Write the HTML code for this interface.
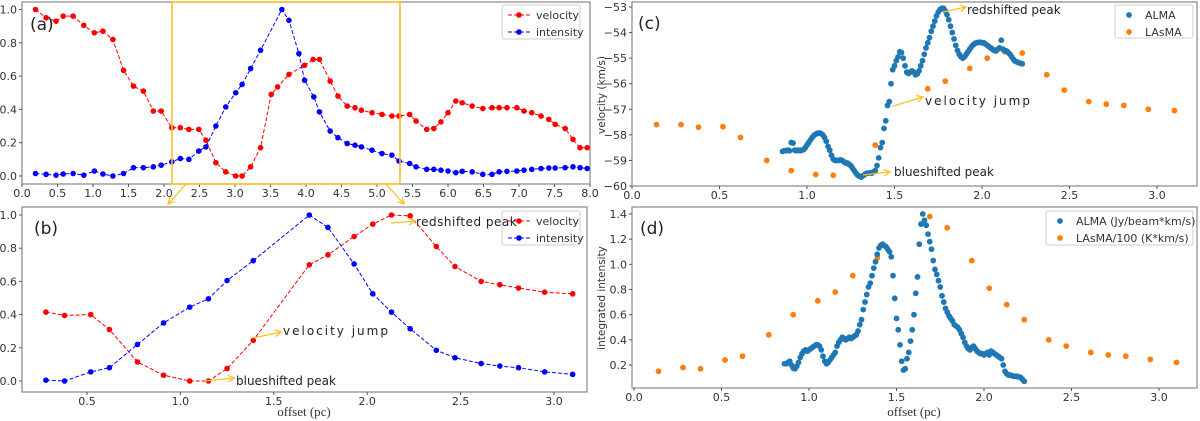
<!DOCTYPE html>
<html><head><meta charset="utf-8"><style>
html,body{margin:0;padding:0;background:#fff;}
svg{display:block;font-family:"DejaVu Sans","Liberation Sans",sans-serif;}
.tick{font-size:11px;fill:#333;}
</style></head><body>
<svg id="fig" width="1200" height="421" viewBox="0 0 1200 421" xmlns="http://www.w3.org/2000/svg"></svg>
<script>
// ---- panel (a) data ----
const aVelX=[0.19,0.34,0.48,0.58,0.72,0.87,1.02,1.14,1.28,1.43,1.57,1.71,1.85,1.96,2.11,2.23,2.35,2.49,2.59,2.73,2.87,3.01,3.10,3.22,3.36,3.51,3.60,3.76,3.98,4.10,4.19,4.34,4.45,4.58,4.69,4.78,4.93,5.07,5.21,5.31,5.46,5.55,5.70,5.80,5.90,6.00,6.11,6.20,6.34,6.49,6.62,6.72,6.83,6.97,7.07,7.18,7.31,7.42,7.51,7.65,7.76,7.86,7.96];
const aVelY=[1.0,0.95,0.93,0.96,0.96,0.905,0.86,0.87,0.82,0.635,0.54,0.51,0.39,0.39,0.29,0.29,0.28,0.28,0.215,0.08,0.025,0,0,0.055,0.17,0.49,0.535,0.61,0.665,0.70,0.70,0.57,0.48,0.42,0.41,0.395,0.38,0.37,0.36,0.36,0.37,0.33,0.28,0.285,0.325,0.38,0.45,0.44,0.42,0.405,0.41,0.41,0.41,0.41,0.39,0.38,0.36,0.34,0.31,0.285,0.22,0.17,0.17];
const aIntX=[0.19,0.34,0.48,0.58,0.72,0.87,1.02,1.14,1.28,1.43,1.57,1.71,1.85,1.96,2.11,2.23,2.35,2.49,2.59,2.73,2.87,3.01,3.10,3.22,3.36,3.66,3.76,3.90,3.98,4.11,4.19,4.34,4.45,4.58,4.69,4.78,4.93,5.07,5.21,5.31,5.46,5.55,5.70,5.80,5.90,6.00,6.11,6.20,6.34,6.49,6.62,6.72,6.83,6.97,7.07,7.18,7.31,7.42,7.51,7.65,7.76,7.86,7.96];
const aIntY=[0.015,0.01,0.005,0.012,0.015,0.005,0.03,0.012,0,0.015,0.05,0.05,0.055,0.065,0.085,0.105,0.1,0.15,0.175,0.3,0.415,0.5,0.55,0.645,0.755,1.0,0.935,0.735,0.575,0.475,0.385,0.27,0.23,0.195,0.185,0.175,0.155,0.135,0.125,0.09,0.075,0.055,0.04,0.04,0.035,0.03,0.02,0.028,0.025,0.01,0.01,0.025,0.028,0.03,0.035,0.04,0.045,0.048,0.048,0.05,0.055,0.05,0.045];
const aXTicks=[0,0.5,1,1.5,2,2.5,3,3.5,4,4.5,5,5.5,6,6.5,7,7.5,8];
const abYTicks=[0,0.2,0.4,0.6,0.8,1.0];
// ---- panel (b) data ----
const bX=[0.28,0.38,0.52,0.62,0.77,0.91,1.05,1.15,1.25,1.39,1.69,1.79,1.93,2.03,2.13,2.23,2.37,2.47,2.61,2.71,2.81,2.95,3.10];
const bVel=[0.415,0.395,0.4,0.31,0.115,0.035,0.0,0.0,0.075,0.245,0.7,0.76,0.87,0.945,1.0,0.995,0.81,0.69,0.6,0.58,0.56,0.535,0.525];
const bInt=[0.005,0.0,0.055,0.08,0.22,0.35,0.445,0.495,0.605,0.725,1.0,0.925,0.705,0.525,0.415,0.315,0.185,0.14,0.105,0.09,0.08,0.055,0.04];
const bXTicks=[0.5,1.0,1.5,2.0,2.5,3.0];
// ---- panels (c),(d) data ----
const lasmaX=[0.14,0.28,0.38,0.52,0.62,0.77,0.91,1.05,1.15,1.25,1.39,1.69,1.79,1.93,2.03,2.13,2.23,2.37,2.47,2.61,2.71,2.81,2.95,3.10];
const cLasma=[-57.6,-57.6,-57.7,-57.68,-58.1,-59.0,-59.4,-59.55,-59.58,-59.2,-58.4,-56.2,-55.9,-55.4,-55.0,-54.75,-54.8,-55.65,-56.25,-56.7,-56.8,-56.85,-57.0,-57.05];
const dLasma=[0.15,0.18,0.17,0.24,0.27,0.44,0.6,0.71,0.78,0.91,1.05,1.38,1.29,1.03,0.81,0.68,0.56,0.40,0.35,0.30,0.28,0.27,0.245,0.22];
const almaX=[0.86,0.87,0.88,0.89,0.90,0.91,0.92,0.93,0.94,0.95,0.96,0.97,0.98,0.99,1.00,1.01,1.02,1.03,1.04,1.05,1.06,1.07,1.08,1.09,1.10,1.11,1.12,1.13,1.14,1.15,1.16,1.17,1.18,1.19,1.20,1.21,1.22,1.23,1.24,1.25,1.26,1.27,1.28,1.29,1.30,1.31,1.32,1.33,1.34,1.35,1.36,1.37,1.38,1.39,1.40,1.41,1.42,1.43,1.44,1.45,1.46,1.47,1.48,1.49,1.50,1.51,1.52,1.53,1.54,1.55,1.56,1.57,1.58,1.59,1.60,1.61,1.62,1.63,1.64,1.65,1.66,1.67,1.68,1.69,1.70,1.71,1.72,1.73,1.74,1.75,1.76,1.77,1.78,1.79,1.80,1.81,1.82,1.83,1.84,1.85,1.86,1.87,1.88,1.89,1.90,1.91,1.92,1.93,1.94,1.95,1.96,1.97,1.98,1.99,2.00,2.01,2.02,2.03,2.04,2.05,2.06,2.07,2.08,2.09,2.10,2.11,2.12,2.13,2.14,2.15,2.16,2.17,2.18,2.19,2.20,2.21,2.22,2.23];
const cAlma=[-58.65,-58.62,-58.62,-58.6,-58.62,-58.3,-58.32,-58.6,-58.62,-58.6,-58.62,-58.6,-58.58,-58.5,-58.4,-58.3,-58.2,-58.1,-58.02,-57.97,-57.94,-57.93,-57.95,-58.0,-58.1,-58.25,-58.45,-58.6,-58.8,-58.95,-59.0,-59.0,-59.0,-58.98,-59.0,-59.05,-59.1,-59.1,-59.15,-59.2,-59.3,-59.4,-59.5,-59.58,-59.62,-59.65,-59.6,-59.55,-59.5,-59.5,-59.48,-59.5,-59.45,-59.4,-59.2,-58.9,-58.5,-58.3,-57.75,-57.45,-56.85,-56.7,-56.0,-55.45,-55.3,-55.1,-54.95,-54.75,-54.78,-55.0,-55.3,-55.55,-55.6,-55.55,-55.5,-55.55,-55.65,-55.62,-55.5,-55.3,-55.1,-54.85,-54.6,-54.4,-54.2,-53.95,-53.75,-53.55,-53.35,-53.2,-53.1,-53.05,-53.05,-53.15,-53.3,-53.5,-53.75,-54.0,-54.25,-54.5,-54.7,-54.85,-54.95,-55.0,-54.95,-54.85,-54.75,-54.65,-54.55,-54.48,-54.42,-54.4,-54.38,-54.38,-54.4,-54.4,-54.45,-54.5,-54.55,-54.6,-54.65,-54.7,-54.72,-54.65,-54.6,-54.3,-54.65,-54.7,-54.72,-54.78,-54.85,-54.95,-55.05,-55.12,-55.15,-55.18,-55.2,-55.22];
const dAlma=[0.21,0.21,0.22,0.23,0.20,0.175,0.17,0.19,0.22,0.26,0.29,0.31,0.32,0.31,0.32,0.33,0.34,0.35,0.36,0.36,0.35,0.32,0.27,0.23,0.21,0.22,0.24,0.26,0.28,0.30,0.35,0.38,0.40,0.42,0.41,0.40,0.41,0.42,0.41,0.42,0.43,0.44,0.47,0.52,0.56,0.64,0.70,0.76,0.82,0.85,0.91,0.97,1.02,1.08,1.13,1.15,1.16,1.15,1.14,1.12,1.10,1.06,0.91,0.73,0.57,0.48,0.36,0.23,0.16,0.17,0.25,0.30,0.39,0.48,0.60,0.77,0.90,1.16,1.32,1.40,1.35,1.31,1.24,1.18,1.12,1.03,0.96,0.92,0.87,0.82,0.75,0.70,0.65,0.62,0.59,0.57,0.55,0.52,0.51,0.50,0.48,0.45,0.42,0.38,0.35,0.33,0.32,0.34,0.35,0.33,0.31,0.30,0.29,0.29,0.28,0.29,0.30,0.28,0.31,0.30,0.29,0.28,0.27,0.26,0.25,0.20,0.15,0.13,0.12,0.12,0.115,0.11,0.11,0.11,0.105,0.10,0.085,0.07];
const cdXTicks=[0,0.5,1.0,1.5,2.0,2.5,3.0];
const cYTicks=[-60,-59,-58,-57,-56,-55,-54,-53];
const dYTicks=[0.2,0.4,0.6,0.8,1.0,1.2,1.4];

const NS='http://www.w3.org/2000/svg';
const svg=document.getElementById('fig');
function mk(tag,attrs,parent){const e=document.createElementNS(NS,tag);for(const k in attrs)e.setAttribute(k,attrs[k]);(parent||svg).appendChild(e);return e;}
function lin(d0,d1,p0,p1){return v=>p0+(v-d0)*(p1-p0)/(d1-d0);}
function fmt(v,dec){return (v<0?'\u2212':'')+Math.abs(v).toFixed(dec);}

function axes(name,fr,sx,sy,xt,yt,xdec,ydec){
  const g=mk('g',{});
  
  
  const r=mk('rect',{x:fr[0],y:fr[1],width:fr[2]-fr[0],height:fr[3]-fr[1],fill:'none',stroke:'#888','stroke-width':1.2},g);
  
  
  xt.forEach(v=>{const x=sx(v);
    mk('line',{x1:x,x2:x,y1:fr[3],y2:fr[3]+3,stroke:'#555'},g);
    const t=mk('text',{x:x,y:fr[3]+13,'text-anchor':'middle',class:'tick'},g);t.textContent=fmt(v,xdec);
    
    });
  yt.forEach(v=>{const y=sy(v);
    mk('line',{x1:fr[0]-3,x2:fr[0],y1:y,y2:y,stroke:'#555'},g);
    const t=mk('text',{x:fr[0]-5,y:y+4,'text-anchor':'end',class:'tick'},g);t.textContent=fmt(v,ydec);
    
    });
  return g;
}
function dashLine(name,xs,ys,sx,sy,col){
  const g=mk('g',{});
  
  
  mk('polyline',{points:xs.map((x,i)=>sx(x)+','+sy(ys[i])).join(' '),fill:'none',stroke:col,'stroke-width':1,'stroke-dasharray':'4,2'},g);
  xs.forEach((x,i)=>{const c=mk('circle',{cx:sx(x),cy:sy(ys[i]),r:2.8,fill:col},g);
    
    });
}
function scatter(name,xs,ys,sx,sy,col){
  const g=mk('g',{});
  
  
  xs.forEach((x,i)=>{const c=mk('circle',{cx:sx(x),cy:sy(ys[i]),r:2.9,fill:col},g);
    
    });
}
function text(name,x,y,s,attrs){const t=mk('text',Object.assign({x:x,y:y},attrs||{}));t.textContent=s;
  
  return t;}
function arrow(name,x1,y1,x2,y2){
  const g=mk('g',{stroke:'#ffc125','stroke-width':1.3,fill:'none'});
  
  
  mk('line',{x1:x1,y1:y1,x2:x2,y2:y2},g);
  const a=Math.atan2(y2-y1,x2-x1),L=7;
  mk('polyline',{points:(x2-L*Math.cos(a-0.5))+','+(y2-L*Math.sin(a-0.5))+' '+x2+','+y2+' '+(x2-L*Math.cos(a+0.5))+','+(y2-L*Math.sin(a+0.5))},g);
}
function legend(name,x,y,w,h,items,marker){
  const g=mk('g',{});
  
  
  mk('rect',{x:x,y:y,width:w,height:h,fill:'#fff',stroke:'#ccc',rx:2},g);
  items.forEach((it,i)=>{const yy=y+10+i*17;
    const e=mk('g',{},g);
    
    
    if(marker==='line'){mk('line',{x1:x+6,x2:x+28,y1:yy,y2:yy,stroke:it[1],'stroke-dasharray':'4,2'},e);mk('circle',{cx:x+17,cy:yy,r:2.8,fill:it[1]},e);}
    else mk('circle',{cx:x+14,cy:yy,r:2.9,fill:it[1]},e);
    const t=mk('text',{x:x+(marker==='line'?34:30),y:yy+4,'font-size':11,fill:'#333'},e);t.textContent=it[0];});
}

// panel a
const axA=lin(0,8,22,590), ayA=lin(0,1,176,9.5);
axes('panel-a',[22,2,590,184],axA,ayA,aXTicks,abYTicks,1,1);
dashLine('panel-a-velocity-line',aVelX,aVelY,axA,ayA,'#ff0000');
dashLine('panel-a-intensity-line',aIntX,aIntY,axA,ayA,'#0000ff');
legend('panel-a-legend',502,5,78,34,[['velocity','#ff0000'],['intensity','#0000ff']],'line');
text('panel-a-label',30,30,'(a)',{'font-size':17,fill:'#222'});
const zb=mk('rect',{x:172,y:2,width:228,height:182,fill:'none',stroke:'#ffc125','stroke-width':1.6});


arrow('zoom-connector-left',186,184,168,204);
arrow('zoom-connector-right',386,184,404,204);

// panel b
const axB=lin(0.5,3.0,87,554), ayB=lin(0,1,381,215);
axes('panel-b',[22,207,587,392],axB,ayB,bXTicks,abYTicks,1,1);
dashLine('panel-b-velocity-line',bX,bVel,axB,ayB,'#ff0000');
dashLine('panel-b-intensity-line',bX,bInt,axB,ayB,'#0000ff');
legend('panel-b-legend',502,211,78,34,[['velocity','#ff0000'],['intensity','#0000ff']],'line');
text('panel-b-label',34,234,'(b)',{'font-size':17,fill:'#222'});
text('panel-b-x-axis-title',304,416,'offset (pc)',{'text-anchor':'middle','font-family':'"Liberation Serif",serif','font-size':13,fill:'#333'});
arrow('panel-b-redshift-arrow',391,223,415,221);
text('panel-b-redshift-annotation',416,226,'redshifted peak',{'font-size':12,fill:'#222','letter-spacing':'0.5'});
arrow('panel-b-jump-arrow',253,338,281,332);
text('panel-b-jump-annotation',283,335,'velocity jump',{'font-size':12,fill:'#222','letter-spacing':'2'});
arrow('panel-b-blueshift-arrow',205,381,234,378);
text('panel-b-blueshift-annotation',236,385,'blueshifted peak',{'font-size':12,fill:'#222'});

// panel c
const axC=lin(0,3,632,1157), ayC=lin(-60,-53,186,7);
axes('panel-c',[632,2,1197,186],axC,ayC,cdXTicks,cYTicks,1,0);
scatter('panel-c-lasma-series',lasmaX,cLasma,axC,ayC,'#ff7f0e');
scatter('panel-c-alma-series',almaX,cAlma,axC,ayC,'#1f77b4');
legend('panel-c-legend',1115,5,78,33,[['ALMA','#1f77b4'],['LAsMA','#ff7f0e']],'dot');
text('panel-c-label',638,29,'(c)',{'font-size':17,fill:'#222'});
text('panel-c-y-axis-title',0,0,'velocity (km/s)',{'text-anchor':'middle','font-size':10.5,fill:'#333',transform:'translate(605,95) rotate(-90)'});
arrow('panel-c-redshift-arrow',943,12,966,7);
text('panel-c-redshift-annotation',967,14,'redshifted peak',{'font-size':12,fill:'#222'});
arrow('panel-c-jump-arrow',893,106,923,97);
text('panel-c-jump-annotation',925,105,'velocity jump',{'font-size':12,fill:'#222','letter-spacing':'2'});
arrow('panel-c-blueshift-arrow',863,175,890,172);
text('panel-c-blueshift-annotation',894,176,'blueshifted peak',{'font-size':12,fill:'#222'});

// panel d
const axD=lin(0,3,634,1159), ayD=lin(0.2,1.4,365,214);
axes('panel-d',[632,207,1197,388],axD,ayD,cdXTicks,dYTicks,1,1);
scatter('panel-d-lasma-series',lasmaX,dLasma,axD,ayD,'#ff7f0e');
scatter('panel-d-alma-series',almaX,dAlma,axD,ayD,'#1f77b4');
legend('panel-d-legend',1046,211,147,34,[['ALMA (Jy/beam*km/s)','#1f77b4'],['LAsMA/100 (K*km/s)','#ff7f0e']],'dot');
text('panel-d-label',640,234,'(d)',{'font-size':17,fill:'#222'});
text('panel-d-y-axis-title',0,0,'integrated intensity',{'text-anchor':'middle','font-size':10.5,fill:'#333',transform:'translate(605,298) rotate(-90)'});
text('panel-d-x-axis-title',914,416,'offset (pc)',{'text-anchor':'middle','font-family':'"Liberation Serif",serif','font-size':13,fill:'#333'});
</script>
</body></html>
